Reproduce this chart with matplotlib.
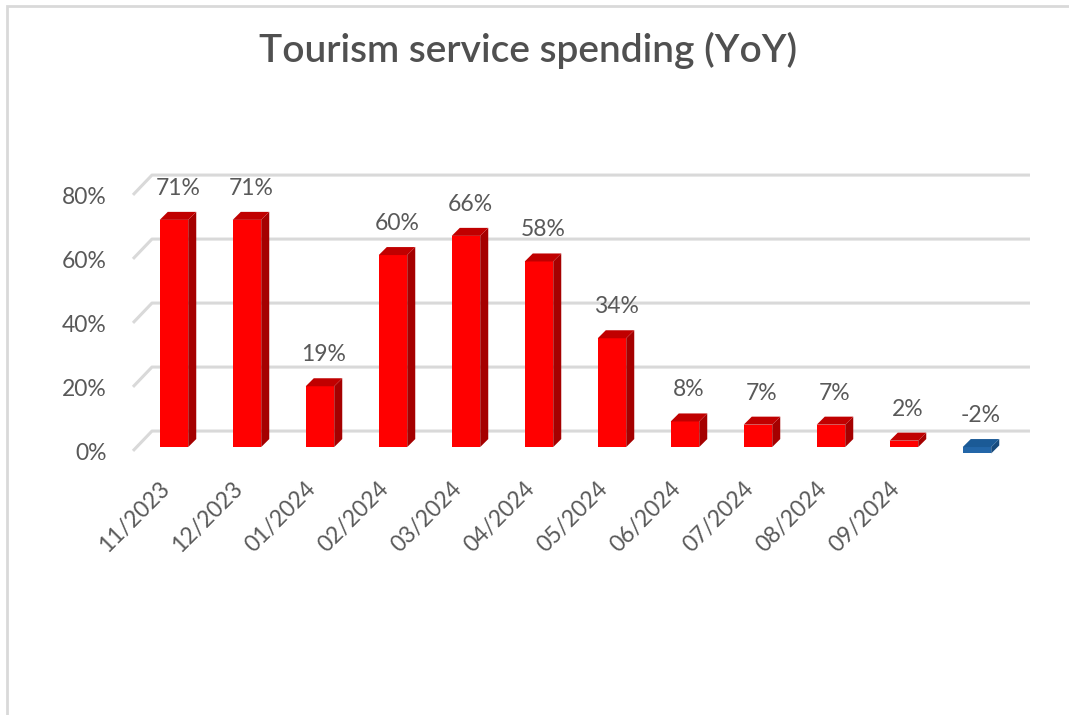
import matplotlib
matplotlib.use("Agg")
import matplotlib.pyplot as plt
from matplotlib.patches import Polygon, Rectangle
from matplotlib.transforms import ScaledTranslation

plt.rcParams['font.family'] = ['Lato', 'DejaVu Sans']

# monthly YoY change in tourism service spending
months = ['11/2023', '12/2023', '01/2024', '02/2024', '03/2024', '04/2024',
          '05/2024', '06/2024', '07/2024', '08/2024', '09/2024', '']
yoy = [0.71, 0.71, 0.19, 0.60, 0.66, 0.58, 0.34, 0.08, 0.07, 0.07, 0.02, -0.02]
yticks = [0.0, 0.2, 0.4, 0.6, 0.8]

TXT = '#595959'
GRID = '#d9d9d9'

fig = plt.figure(figsize=(10.69, 7.15), dpi=100)
fig.patches.append(Rectangle((7 / 1069, -0.1), 1.2, 1.1 - 6 / 715,
                             transform=fig.transFigure, fill=False,
                             edgecolor=GRID, linewidth=2))

ax = fig.add_axes([0.1244, 0.3497, 0.8391, 0.4126])
xmin, xmax = -0.5616, 11.726
ax.set_xlim(xmin, xmax)
ax.set_ylim(-0.056, 0.866)
for s in ax.spines.values():
    s.set_visible(False)

# pseudo-3D depth: bar side/top offset and back-wall offset (data units)
dx, dy = 0.11, 0.025
bx, by = 0.26, 0.05

for t in yticks:
    ax.plot([xmin, xmin + bx, xmax], [t - 0.012, t + by, t + by], color=GRID,
            lw=2.2, zorder=1, clip_on=False, solid_capstyle='butt')

w = 0.39
h = w / 2
x = list(range(len(yoy)))
for i, v in enumerate(yoy):
    if v >= 0:
        front, side, top = '#ff0000', '#a50000', '#c00000'
    else:
        front, side, top = '#2366a8', '#174a7c', '#1b5a96'
    lo, hi = min(v, 0), max(v, 0)
    ax.bar(i, v, width=w, color=front, zorder=3, linewidth=0)
    ax.add_patch(Polygon([(i + h, lo), (i + h + dx, lo + dy), (i + h + dx, hi + dy), (i + h, hi)],
                         closed=True, facecolor=side, edgecolor='none', zorder=3))
    ax.add_patch(Polygon([(i - h, hi), (i + h, hi), (i + h + dx, hi + dy), (i - h + dx, hi + dy)],
                         closed=True, facecolor=top, edgecolor='none', zorder=3))
    ax.annotate(f'{v * 100:.0f}%', (i + dx / 2, hi + dy), xytext=(0, 17),
                textcoords='offset points', ha='center', va='center',
                fontsize=16.5, color=TXT)

ax.set_yticks(yticks)
ax.set_yticklabels([f'{t * 100:.0f}%' for t in yticks])
ax.set_xticks(x)
ax.set_xticklabels(months, rotation=45, ha='right')
ax.tick_params(axis='y', length=0, pad=19, labelsize=16.5, labelcolor=TXT)
ax.tick_params(axis='x', length=0, pad=9, labelsize=16.5, labelcolor=TXT)

shift = ScaledTranslation(0, -0.045, fig.dpi_scale_trans)
for lab in ax.get_yticklabels():
    lab.set_transform(lab.get_transform() + shift)

fig.text(0.494, 1 - 50 / 715, 'Tourism service spending (YoY)', ha='center',
         va='center', fontsize=28, color='#505050', fontweight='semibold')

fig.savefig('out.png', dpi=100)
